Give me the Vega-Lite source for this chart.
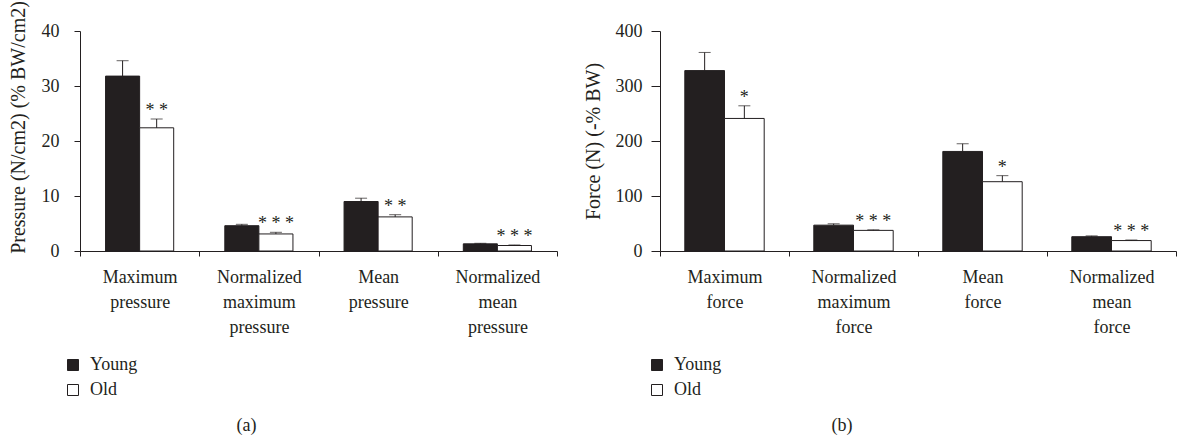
{
  "$schema": "https://vega.github.io/schema/vega-lite/v6.json",
  "background": "white",
  "padding": {"left": 7, "top": 0, "right": 0, "bottom": 0},
  "config": {
    "font": "Liberation Serif",
    "view": {"stroke": null},
    "axis": {
      "labelFont": "Liberation Serif", "titleFont": "Liberation Serif",
      "labelFontSize": 18, "titleFontSize": 20, "titleFontWeight": "normal",
      "labelColor": "#231f20", "titleColor": "#231f20",
      "domainColor": "#231f20", "tickColor": "#231f20", "grid": false
    },
    "legend": {"labelFont": "Liberation Serif", "labelFontSize": 18, "labelColor": "#231f20"},
    "title": {"font": "Liberation Serif", "fontSize": 18, "fontWeight": "normal", "color": "#231f20"}
  },
  "datasets": {
    "pressure": [
      {"cat": "Maximum pressure", "group": "Young", "value": 31.8, "upper": 34.6, "sig": ""},
      {"cat": "Maximum pressure", "group": "Old", "value": 22.4, "upper": 24.0, "sig": "* *"},
      {"cat": "Normalized maximum pressure", "group": "Young", "value": 4.6, "upper": 4.85, "sig": ""},
      {"cat": "Normalized maximum pressure", "group": "Old", "value": 3.1, "upper": 3.4, "sig": "* * *"},
      {"cat": "Mean pressure", "group": "Young", "value": 9.0, "upper": 9.6, "sig": ""},
      {"cat": "Mean pressure", "group": "Old", "value": 6.2, "upper": 6.6, "sig": "* *"},
      {"cat": "Normalized mean pressure", "group": "Young", "value": 1.3, "upper": 1.4, "sig": ""},
      {"cat": "Normalized mean pressure", "group": "Old", "value": 1.0, "upper": 1.1, "sig": "* * *"}
    ],
    "force": [
      {"cat": "Maximum force", "group": "Young", "value": 328, "upper": 361, "sig": ""},
      {"cat": "Maximum force", "group": "Old", "value": 241, "upper": 264, "sig": "*"},
      {"cat": "Normalized maximum force", "group": "Young", "value": 47, "upper": 49.5, "sig": ""},
      {"cat": "Normalized maximum force", "group": "Old", "value": 37.5, "upper": 38.5, "sig": "* * *"},
      {"cat": "Mean force", "group": "Young", "value": 181, "upper": 195, "sig": ""},
      {"cat": "Mean force", "group": "Old", "value": 126, "upper": 137, "sig": "*"},
      {"cat": "Normalized mean force", "group": "Young", "value": 26, "upper": 27.5, "sig": ""},
      {"cat": "Normalized mean force", "group": "Old", "value": 19, "upper": 20, "sig": "* * *"}
    ]
  },
  "spacing": 25,
  "resolve": {
    "scale": {"x": "independent", "y": "independent", "xOffset": "independent", "color": "independent"},
    "legend": {"color": "independent"}
  },
  "hconcat": [
    {
      "width": 477, "height": 220,
      "data": {"name": "pressure"},
      "title": {"text": "(a)", "orient": "bottom", "anchor": "middle", "frame": "group", "dx": -72, "offset": 18},
      "encoding": {
        "x": {"field": "cat", "type": "nominal", "sort": null,
          "scale": {"paddingInner": 0, "paddingOuter": 0},
          "axis": {"title": null, "labelAngle": 0, "labelExpr": "isValid(datum.value) ? split(datum.value, ' ') : ''", "labelLineHeight": 25,
            "tickBand": "extent", "tickSize": 5, "labelPadding": 12, "labelBaseline": "top"}},
        "xOffset": {"field": "group", "type": "nominal", "sort": ["Young", "Old"],
          "scale": {"paddingInner": 0, "paddingOuter": 0.75}}
      },
      "layer": [
        {
          "mark": {"type": "bar", "stroke": "#231f20", "strokeWidth": 1},
          "encoding": {
            "y": {"field": "value", "type": "quantitative",
              "scale": {"domain": [0, 40]},
              "axis": {"values": [0, 10, 20, 30, 40], "tickSize": 6, "labelPadding": 15,
                "title": "Pressure (N/cm2) (% BW/cm2)", "titlePadding": 13, "titleY": 96}},
            "color": {"field": "group", "type": "nominal", "sort": ["Young", "Old"],
              "scale": {"domain": ["Young", "Old"], "range": ["#231f20", "#ffffff"]},
              "legend": {"title": null, "orient": "none", "legendX": -16, "legendY": 325,
                "symbolType": "square", "symbolSize": 121, "symbolStrokeColor": "#231f20",
                "symbolStrokeWidth": 1, "symbolOpacity": 1, "rowPadding": 7, "labelOffset": 8}}
          }
        },
        {
          "mark": {"type": "rule", "color": "#231f20", "strokeWidth": 1},
          "encoding": {"y": {"field": "value", "type": "quantitative"}, "y2": {"field": "upper"}}
        },
        {
          "mark": {"type": "tick", "color": "#231f20", "thickness": 1, "size": 12},
          "encoding": {"y": {"field": "upper", "type": "quantitative"}}
        },
        {
          "mark": {"type": "text", "fontSize": 18, "color": "#231f20", "baseline": "alphabetic", "dy": -3},
          "encoding": {"y": {"field": "upper", "type": "quantitative"}, "text": {"field": "sig"}}
        }
      ]
    },
    {
      "width": 516, "height": 220,
      "data": {"name": "force"},
      "title": {"text": "(b)", "orient": "bottom", "anchor": "middle", "frame": "group", "dx": -76, "offset": 18},
      "encoding": {
        "x": {"field": "cat", "type": "nominal", "sort": null,
          "scale": {"paddingInner": 0, "paddingOuter": 0},
          "axis": {"title": null, "labelAngle": 0, "labelExpr": "isValid(datum.value) ? split(datum.value, ' ') : ''", "labelLineHeight": 25,
            "tickBand": "extent", "tickSize": 5, "labelPadding": 12, "labelBaseline": "top"}},
        "xOffset": {"field": "group", "type": "nominal", "sort": ["Young", "Old"],
          "scale": {"paddingInner": 0, "paddingOuter": 0.625}}
      },
      "layer": [
        {
          "mark": {"type": "bar", "stroke": "#231f20", "strokeWidth": 1},
          "encoding": {
            "y": {"field": "value", "type": "quantitative",
              "scale": {"domain": [0, 400]},
              "axis": {"values": [0, 100, 200, 300, 400], "tickSize": 9, "labelPadding": 9,
                "title": "Force (N) (-% BW)", "titlePadding": 12}},
            "color": {"field": "group", "type": "nominal", "sort": ["Young", "Old"],
              "scale": {"domain": ["Young", "Old"], "range": ["#231f20", "#ffffff"]},
              "legend": {"title": null, "orient": "none", "legendX": -12, "legendY": 325,
                "symbolType": "square", "symbolSize": 121, "symbolStrokeColor": "#231f20",
                "symbolStrokeWidth": 1, "symbolOpacity": 1, "rowPadding": 7, "labelOffset": 8}}
          }
        },
        {
          "mark": {"type": "rule", "color": "#231f20", "strokeWidth": 1},
          "encoding": {"y": {"field": "value", "type": "quantitative"}, "y2": {"field": "upper"}}
        },
        {
          "mark": {"type": "tick", "color": "#231f20", "thickness": 1, "size": 12},
          "encoding": {"y": {"field": "upper", "type": "quantitative"}}
        },
        {
          "mark": {"type": "text", "fontSize": 18, "color": "#231f20", "baseline": "alphabetic", "dy": -3},
          "encoding": {"y": {"field": "upper", "type": "quantitative"}, "text": {"field": "sig"}}
        }
      ]
    }
  ]
}
